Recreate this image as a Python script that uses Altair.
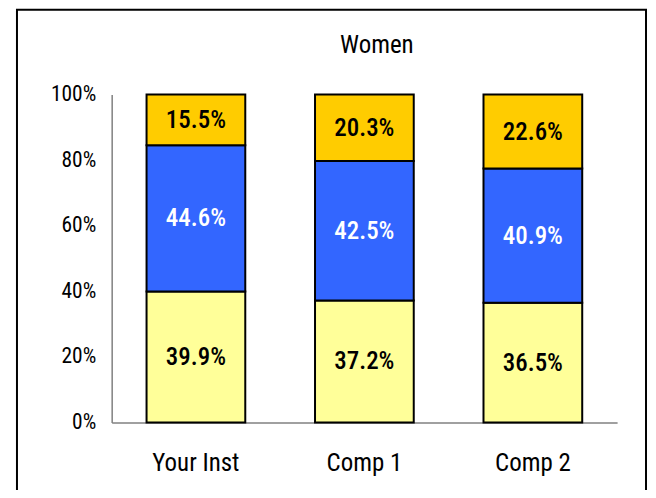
import altair as alt
import pandas as pd

categories = ["Your Inst", "Comp 1", "Comp 2"]
segments = ["Low", "Mid", "High"]
low_vals = [39.9, 37.2, 36.5]
mid_vals = [44.6, 42.5, 40.9]
high_vals = [15.5, 20.3, 22.6]
seg_colors = ["#FFFF99", "#3366FF", "#FFCC00"]
text_colors = ["black", "white", "black"]
y_ticks = [0, 0.2, 0.4, 0.6, 0.8, 1.0]

rows = []
for i, c in enumerate(categories):
    for j, (s, vals) in enumerate(zip(segments, [low_vals, mid_vals, high_vals])):
        rows.append({"cat": c, "seg": s, "ord": j, "value": vals[i] / 100.0,
                     "tcolor": text_colors[j]})
df = pd.DataFrame(rows)

FONT = "'Roboto Condensed', 'DejaVu Sans Condensed', 'Arial Narrow', Roboto, sans-serif"

base = alt.Chart(df).transform_stack(
    stack="value", groupby=["cat"], as_=["y0", "y1"], sort=[alt.SortField("ord")]
).transform_calculate(mid="(datum.y0 + datum.y1) / 2")

x_enc = alt.X("cat:N", sort=categories, title=None,
              scale=alt.Scale(paddingInner=0.414, paddingOuter=0.207),
              axis=alt.Axis(labelAngle=0, labelFontSize=25, labelFont=FONT,
                            labelColor="black", labelPadding=28, ticks=False,
                            domainColor="#808080", domainWidth=1.5))

bars = base.mark_bar(stroke="black", strokeWidth=2).encode(
    x=x_enc,
    y=alt.Y("y0:Q", scale=alt.Scale(domain=[0, 1]), title=None,
            axis=alt.Axis(values=y_ticks, format=".0%", labelFontSize=21.5,
                          labelFont=FONT, labelColor="black", labelPadding=16,
                          ticks=False, grid=False, domainColor="#808080",
                          domainWidth=1.5)),
    y2="y1:Q",
    color=alt.Color("seg:N", scale=alt.Scale(domain=segments, range=seg_colors),
                    legend=None),
)

labels = base.mark_text(font=FONT, fontSize=25, fontWeight=500).encode(
    x=alt.X("cat:N", sort=categories),
    y=alt.Y("mid:Q"),
    text=alt.Text("value:Q", format=".1%"),
    color=alt.Color("tcolor:N", scale=None),
)

frame = alt.Chart(pd.DataFrame({"a": [0]})).mark_rect(
    fill=None, stroke="black", strokeWidth=2, clip=False
).encode(x=alt.value(-95), x2=alt.value(536), y=alt.value(-85), y2=alt.value(430))

title = alt.Chart(pd.DataFrame({"t": ["Women"]})).mark_text(
    font=FONT, fontSize=25, color="black", baseline="middle", align="center"
).encode(x=alt.value(266), y=alt.value(-50), text="t:N")

chart = alt.layer(frame, bars, labels, title).properties(
    width=507, height=329,
    padding={"left": 104, "top": 86, "right": 31, "bottom": 67},
    autosize=alt.AutoSizeParams(type="none"),
    background="white",
).configure_view(stroke=None)

chart.save("out.html", embed_options={"renderer": "svg", "actions": False})
